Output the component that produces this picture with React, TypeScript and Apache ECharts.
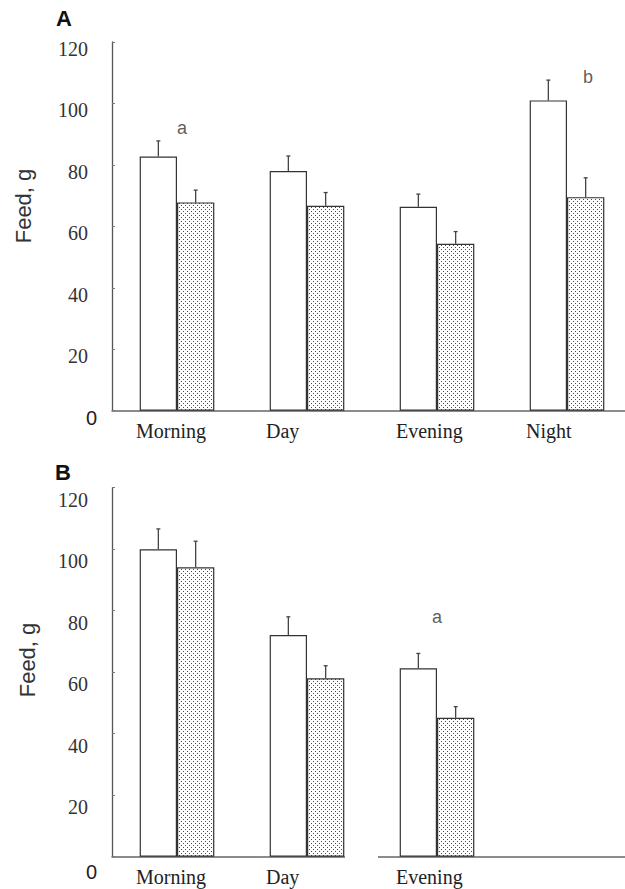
import React, { useEffect, useRef } from "react";
import * as echarts from "echarts";

const categoriesA = ["Morning", "Day", "Evening", "Night"];
const categoriesB = ["Morning", "Day", "Evening", ""];

const aWhite = [82.7, 78.0, 66.4, 101.0];
const aWhiteErr = [87.8, 82.9, 70.5, 107.6];
const aDotted = [67.8, 66.7, 54.3, 69.5];
const aDottedErr = [71.8, 71.0, 58.3, 75.8];

const bWhite = [100.0, 72.1, 61.3, null];
const bWhiteErr = [106.6, 78.0, 66.1, null];
const bDotted = [94.1, 58.0, 45.2, null];
const bDottedErr = [102.6, 62.1, 48.8, null];

const aLetters = [
  { cat: 0, value: 92, text: "a" },
  { cat: 3, value: 108.5, text: "b" },
];
const bLetters = [{ cat: 2, value: 78, text: "a" }];
const aLetterShift = [5, 21];
const bLetterShift = [0];

const Y_MIN = 0;
const Y_MAX = 120;
const Y_STEP = 20;

const BAR_FRAC = 0.287;

function makeDots(): string {
  const c = document.createElement("canvas");
  c.width = 4;
  c.height = 4;
  const ctx = c.getContext("2d")!;
  ctx.fillStyle = "#ffffff";
  ctx.fillRect(0, 0, 4, 4);
  ctx.fillStyle = "#4a4a4a";
  ctx.fillRect(1, 1, 1, 1);
  ctx.fillRect(3, 3, 1, 1);
  return c.toDataURL();
}

export default function App() {
  const ref = useRef<HTMLDivElement>(null);
  useEffect(() => {
    if (!ref.current) return;
    const chart = echarts.init(ref.current, null, { renderer: "svg" });
    const dots = { image: makeDots(), repeat: "repeat", imageWidth: 4, imageHeight: 4 } as any;

    const serif = "Liberation Serif";
    const sans = "Liberation Sans";

    const yAxis = (idx: number, lh: number) => ({
      type: "value",
      gridIndex: idx,
      position: "left",
      min: Y_MIN,
      max: Y_MAX,
      interval: Y_STEP,
      splitLine: { show: false },
      axisLine: { show: true, lineStyle: { color: "#555", width: 1.3 } },
      axisTick: { show: true, inside: true, length: 3, lineStyle: { color: "#777" } },
      axisLabel: {
        show: true,
        margin: 24,
        align: "right",
        verticalAlign: "top",
        lineHeight: lh,
        fontFamily: serif,
        fontSize: 20,
        fontStyle: "normal",
        fontWeight: "normal",
        color: "#333",
        formatter: (v: number) => (v === 0 ? "" : String(v)),
      },
    });

    const zeroAxis = (idx: number, lh: number) => ({
      type: "value",
      gridIndex: idx,
      position: "left",
      offset: 0,
      min: Y_MIN,
      max: Y_MAX,
      interval: Y_STEP,
      splitLine: { show: false },
      axisLine: { show: false },
      axisTick: { show: false },
      axisLabel: {
        margin: 15,
        align: "right",
        verticalAlign: "top",
        lineHeight: lh,
        fontFamily: sans,
        fontSize: 20,
        color: "#222",
        formatter: (v: number) => (v === 0 ? "0" : ""),
      },
    });

    const xAxis = (idx: number, data: string[]) => ({
      type: "category",
      gridIndex: idx,
      data,
      axisLine: { show: true, lineStyle: { color: "#666", width: 1.5 } },
      axisTick: { show: false },
      axisLabel: {
        fontFamily: serif,
        fontSize: 20,
        color: "#222",
        align: "left",
        margin: 10,
        padding: [0, 0, 0, -41],
        interval: 0,
      },
    });

    const barStyleWhite = { color: "#ffffff", borderColor: "#333", borderWidth: 1.2 };
    const barStyleDots = { color: dots, borderColor: "#333", borderWidth: 1.2 };

    const errSeries = (idx: number, vals: (number | null)[], errs: (number | null)[], side: number) => ({
      type: "custom",
      xAxisIndex: idx,
      yAxisIndex: idx,
      z: 5,
      data: vals
        .map((v, i) => (v == null || errs[i] == null ? null : [i, v, errs[i]]))
        .filter((d) => d !== null),
      renderItem: (params: any, api: any) => {
        const i = api.value(0);
        const top = api.coord([i, api.value(1)]);
        const err = api.coord([i, api.value(2)]);
        const band = api.size([1, 0])[0];
        const x = top[0] + side * band * (BAR_FRAC / 2);
        const st = { stroke: "#444", lineWidth: 1.3 };
        return {
          type: "group",
          children: [
            { type: "line", shape: { x1: x, y1: top[1], x2: x, y2: err[1] }, style: st },
            { type: "line", shape: { x1: x - 2, y1: err[1], x2: x + 2, y2: err[1] }, style: st },
          ],
        };
      },
    });

    const letterSeries = (idx: number, items: { cat: number; value: number; text: string }[], shifts: number[]) => ({
      type: "scatter",
      xAxisIndex: idx,
      yAxisIndex: idx,
      symbolSize: 0,
      silent: true,
      data: items.map((it, k) => ({
        value: [it.cat, it.value],
        label: {
          show: true,
          formatter: it.text,
          position: "inside",
          offset: [shifts[k], 0],
          fontFamily: sans,
          fontSize: 18,
          color: "#333",
        },
      })),
    });

    const option: any = {
      animation: false,
      backgroundColor: "#ffffff",
      grid: [
        { left: 112, top: 42, width: 520, height: 368.7, outerBoundsMode: "none", containLabel: false },
        { left: 112, top: 487.7, width: 520, height: 369, outerBoundsMode: "none", containLabel: false },
      ],
      xAxis: [xAxis(0, categoriesA), xAxis(1, categoriesB)],
      yAxis: [yAxis(0, 14), yAxis(1, 24), zeroAxis(0, 14), zeroAxis(1, 30)],
      series: [
        { type: "bar", xAxisIndex: 0, yAxisIndex: 0, data: aWhite, barWidth: "28.7%", barGap: "0%", itemStyle: barStyleWhite },
        { type: "bar", xAxisIndex: 0, yAxisIndex: 0, data: aDotted, barWidth: "28.7%", barGap: "0%", itemStyle: barStyleDots },
        { type: "bar", xAxisIndex: 1, yAxisIndex: 1, data: bWhite, barWidth: "28.7%", barGap: "0%", itemStyle: barStyleWhite },
        { type: "bar", xAxisIndex: 1, yAxisIndex: 1, data: bDotted, barWidth: "28.7%", barGap: "0%", itemStyle: barStyleDots },
        errSeries(0, aWhite, aWhiteErr, -1),
        errSeries(0, aDotted, aDottedErr, 1),
        errSeries(1, bWhite, bWhiteErr, -1),
        errSeries(1, bDotted, bDottedErr, 1),
        letterSeries(0, aLetters, aLetterShift),
        letterSeries(1, bLetters, bLetterShift),
      ],
      graphic: [
        { type: "text", x: 64, y: 18.5, style: { text: "A", font: `bold 22px ${sans}`, fill: "#111", align: "center", verticalAlign: "middle" } },
        { type: "text", x: 63, y: 472, style: { text: "B", font: `bold 22px ${sans}`, fill: "#111", align: "center", verticalAlign: "middle" } },
        { type: "text", x: 23, y: 206, rotation: Math.PI / 2, style: { text: "Feed, g", font: `22px ${sans}`, fill: "#333", align: "center", verticalAlign: "middle" } },
        { type: "text", x: 27, y: 660, rotation: Math.PI / 2, style: { text: "Feed, g", font: `22px ${sans}`, fill: "#333", align: "center", verticalAlign: "middle" } },
        { type: "rect", x: 345, y: 854.5, shape: { width: 33, height: 4 }, style: { fill: "#ffffff" }, z: 100 },
      ],
    };
    chart.setOption(option);
    return () => chart.dispose();
  }, []);
  return (
    <div
      ref={ref}
      style={{ position: "fixed", left: 0, top: 0, width: 625, height: 889, background: "#fff" }}
    />
  );
}
